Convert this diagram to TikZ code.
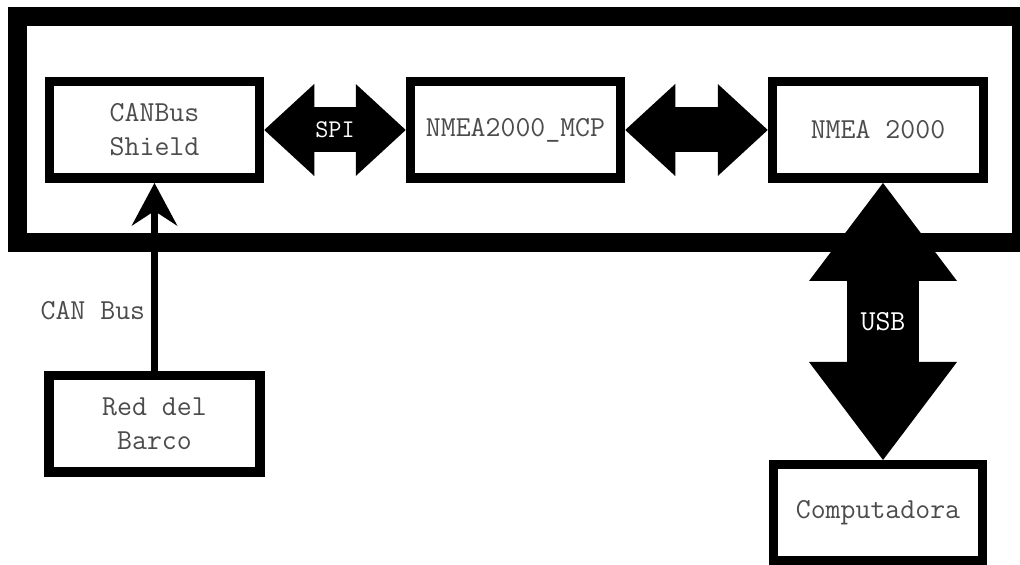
\documentclass[tikz,border=0pt]{standalone}
\usepackage{tikz}
\usetikzlibrary{arrows.meta,positioning}

\begin{document}
\begin{tikzpicture}[
    node distance=7.22cm and 7.22cm, on grid,
    block/.style={draw=black,line width=0.19cm,fill=white,minimum width=4.2cm,minimum height=1.93cm,inner sep=2pt,align=center,text=black!70,font=\ttfamily\fontsize{16.5}{19.3}\selectfont},
    fatarr/.style={line width=0.9cm,{Triangle[length=1cm,width=1.84cm,line width=0pt]}-{Triangle[length=1cm,width=1.84cm,line width=0pt]}},
    usbarr/.style={line width=1.44cm,{Triangle[length=1.96cm,width=2.96cm,line width=0pt]}-{Triangle[length=1.96cm,width=2.96cm,line width=0pt]}},
    canarr/.style={line width=0.14cm,-{Stealth[length=0.86cm,width=0.92cm,inset=0.3cm,line width=0pt]}},
    lbl/.style={text=black!70,font=\ttfamily\fontsize{16.5}{19.3}\selectfont}
    ]
    \useasboundingbox (0,0) rectangle (20.4,11.3);
    % marco exterior
    \draw[line width=0.38cm] (0.35,6.45) rectangle (20.43,10.97);
    \node[block] (cbs) at (3.09,8.70) {CANBus\\Shield};
    \node[block] (mcp) [right=7.22cm of cbs] {NMEA2000\_MCP};
    \node[block,minimum width=4.22cm] (n2k) [right=7.25cm of mcp] {NMEA 2000};
    \node[block,minimum width=4.22cm] (red) [below=5.88cm of cbs] {Red del\\Barco};
    \node[block,minimum width=4.18cm] (pc) [below=7.66cm of n2k] {Computadora};
    \draw[fatarr] (cbs.east) -- (mcp.west)
        node[midway,text=white,font=\ttfamily\fontsize{14.5}{16}\selectfont] {SPI};
    \draw[fatarr] (mcp.east) -- (n2k.west);
    \draw[usbarr] ([xshift=0.1cm]n2k.south) -- ([xshift=0.1cm]pc.north)
        node[midway,text=white,font=\ttfamily\fontsize{16.5}{19.3}\selectfont] {USB};
    \draw[canarr] (red.north) -- (cbs.south) node[lbl,pos=0.32,left] {CAN Bus};
\end{tikzpicture}
\end{document}
